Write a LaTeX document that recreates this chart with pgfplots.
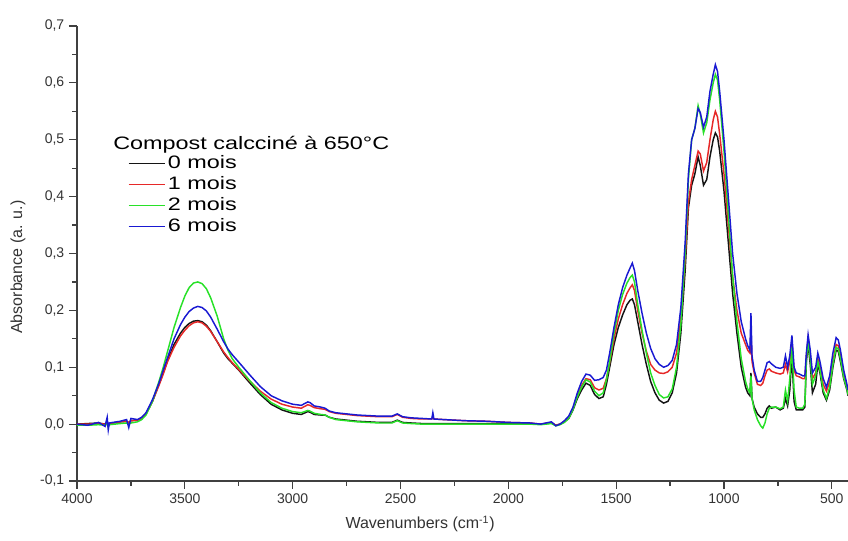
\documentclass[border=0pt]{standalone}
\usepackage{pgfplots}
\usepackage{pgfplotstable}
\pgfplotsset{compat=1.18}
\usepackage{fontspec}
\setmainfont{Liberation Sans}
\newfontfamily\legfont[FakeStretch=1.3]{Liberation Sans}

\definecolor{cK}{RGB}{20,20,20}
\definecolor{cR}{RGB}{230,40,40}
\definecolor{cG}{RGB}{40,225,40}
\definecolor{cB}{RGB}{25,25,210}

% x = wavenumber, k = 0 mois, r = 1 mois, g = 2 mois, b = 6 mois
\pgfplotstableread{
x k r g b
4000 0.000 0.000 -0.002 0.000
3950 0.001 0.000 -0.002 -0.002
3900 0.002 0.001 -0.001 0.003
3870 0.000 0.000 -0.002 -0.004
3860 0.003 0.003 0.000 0.012
3855 -0.004 -0.003 -0.004 -0.010
3850 0.001 0.001 -0.001 0.002
3800 0.004 0.004 0.001 0.005
3770 0.005 0.005 0.002 0.008
3760 0.002 0.003 0.000 -0.006
3750 0.006 0.006 0.002 0.010
3720 0.007 0.007 0.004 0.008
3700 0.010 0.010 0.008 0.012
3680 0.018 0.018 0.016 0.020
3650 0.040 0.040 0.040 0.043
3620 0.070 0.068 0.075 0.072
3600 0.090 0.088 0.100 0.095
3580 0.112 0.110 0.128 0.117
3550 0.140 0.135 0.170 0.150
3520 0.160 0.155 0.205 0.175
3500 0.170 0.165 0.225 0.188
3480 0.177 0.173 0.240 0.198
3460 0.181 0.178 0.248 0.204
3440 0.182 0.180 0.250 0.207
3420 0.180 0.178 0.247 0.205
3400 0.174 0.172 0.238 0.199
3380 0.164 0.163 0.222 0.188
3350 0.145 0.145 0.190 0.167
3320 0.125 0.127 0.150 0.145
3300 0.115 0.117 0.130 0.132
3280 0.107 0.108 0.115 0.122
3250 0.095 0.096 0.100 0.109
3200 0.073 0.076 0.077 0.087
3150 0.052 0.058 0.055 0.066
3100 0.035 0.044 0.038 0.050
3050 0.025 0.035 0.028 0.041
3000 0.019 0.030 0.022 0.035
2960 0.017 0.028 0.020 0.033
2930 0.022 0.034 0.024 0.039
2920 0.021 0.033 0.023 0.038
2900 0.017 0.029 0.019 0.032
2870 0.016 0.027 0.017 0.030
2850 0.016 0.026 0.016 0.028
2830 0.012 0.022 0.012 0.023
2800 0.009 0.019 0.008 0.020
2700 0.005 0.015 0.004 0.016
2600 0.003 0.013 0.002 0.014
2540 0.003 0.013 0.002 0.014
2515 0.007 0.017 0.006 0.018
2490 0.003 0.012 0.002 0.013
2450 0.002 0.010 0.001 0.011
2400 0.001 0.009 0.000 0.010
2355 0.001 0.009 0.000 0.009
2350 0.001 0.012 0.000 0.020
2345 0.001 0.009 0.000 0.009
2300 0.001 0.008 0.000 0.008
2200 0.001 0.006 0.000 0.006
2100 0.001 0.005 0.000 0.005
2000 0.001 0.003 0.000 0.003
1900 0.001 0.002 0.000 0.002
1850 0.000 0.000 -0.001 0.000
1800 0.002 0.003 0.001 0.004
1780 -0.002 -0.002 -0.003 -0.003
1760 0.000 0.000 -0.001 0.000
1740 0.004 0.005 0.003 0.006
1720 0.010 0.012 0.010 0.014
1700 0.025 0.028 0.026 0.030
1680 0.045 0.050 0.048 0.055
1660 0.060 0.068 0.065 0.075
1640 0.072 0.080 0.078 0.088
1620 0.068 0.078 0.074 0.086
1600 0.052 0.064 0.058 0.077
1580 0.045 0.060 0.050 0.078
1560 0.048 0.063 0.055 0.082
1545 0.070 0.080 0.078 0.095
1530 0.100 0.108 0.110 0.125
1510 0.140 0.150 0.160 0.170
1490 0.170 0.185 0.200 0.210
1470 0.192 0.210 0.228 0.240
1450 0.210 0.230 0.248 0.262
1435 0.218 0.240 0.258 0.275
1425 0.220 0.245 0.262 0.283
1415 0.210 0.235 0.250 0.270
1400 0.180 0.200 0.210 0.235
1380 0.140 0.160 0.165 0.195
1360 0.105 0.128 0.125 0.160
1340 0.075 0.105 0.090 0.133
1320 0.055 0.095 0.068 0.115
1300 0.042 0.090 0.052 0.105
1280 0.037 0.089 0.046 0.100
1260 0.040 0.092 0.048 0.103
1240 0.055 0.100 0.062 0.112
1220 0.090 0.125 0.100 0.140
1200 0.160 0.185 0.175 0.205
1180 0.270 0.290 0.300 0.320
1165 0.380 0.390 0.430 0.440
1150 0.420 0.430 0.500 0.500
1135 0.440 0.455 0.520 0.520
1120 0.470 0.480 0.560 0.555
1110 0.455 0.475 0.545 0.548
1095 0.420 0.445 0.512 0.522
1080 0.430 0.460 0.530 0.540
1065 0.470 0.500 0.570 0.585
1050 0.500 0.535 0.600 0.615
1040 0.512 0.550 0.615 0.632
1030 0.505 0.540 0.605 0.620
1020 0.480 0.510 0.570 0.585
1000 0.410 0.440 0.480 0.500
980 0.320 0.350 0.370 0.400
960 0.230 0.260 0.260 0.300
940 0.160 0.200 0.180 0.230
920 0.100 0.160 0.115 0.180
900 0.065 0.140 0.075 0.150
890 0.055 0.130 0.062 0.138
880 0.050 0.125 0.055 0.130
875 0.090 0.160 0.085 0.195
870 0.045 0.110 0.045 0.120
860 0.030 0.090 0.025 0.095
845 0.018 0.070 0.008 0.075
830 0.012 0.068 -0.003 0.075
820 0.012 0.072 -0.007 0.082
810 0.018 0.085 0.002 0.095
800 0.028 0.095 0.018 0.108
790 0.032 0.097 0.028 0.110
780 0.028 0.093 0.030 0.106
760 0.030 0.090 0.030 0.100
740 0.025 0.088 0.027 0.098
725 0.028 0.090 0.030 0.100
715 0.045 0.105 0.060 0.120
705 0.032 0.092 0.040 0.100
695 0.060 0.110 0.080 0.120
685 0.120 0.145 0.135 0.156
675 0.040 0.095 0.060 0.100
665 0.025 0.085 0.030 0.090
650 0.025 0.083 0.028 0.088
635 0.025 0.080 0.028 0.085
625 0.030 0.080 0.035 0.085
618 0.110 0.120 0.115 0.125
610 0.140 0.150 0.145 0.157
600 0.105 0.120 0.115 0.130
590 0.055 0.080 0.070 0.090
575 0.070 0.090 0.085 0.100
565 0.105 0.115 0.110 0.125
555 0.090 0.100 0.095 0.110
540 0.055 0.070 0.060 0.080
525 0.042 0.058 0.045 0.065
510 0.060 0.075 0.065 0.085
495 0.100 0.110 0.105 0.125
480 0.130 0.140 0.135 0.152
470 0.128 0.138 0.132 0.148
460 0.110 0.120 0.115 0.130
445 0.080 0.088 0.082 0.095
430 0.060 0.065 0.062 0.070
425 0.050 0.055 0.052 0.060
}\spectra

\begin{document}
\begin{tikzpicture}
\begin{axis}[
  scale only axis,
  width=578.25pt, height=341.25pt,
  x dir=reverse,
  xmin=425, xmax=4000,
  ymin=-0.1, ymax=0.7,
  axis lines*=left,
  axis line style={-, draw=black!75, line width=1pt},
  tick align=outside,
  major tick length=6pt,
  minor tick length=3.5pt,
  tick style={draw=black!75, line width=0.9pt},
  xtick={500,1000,...,4000},
  minor x tick num=1,
  ytick={-0.1,0,0.1,0.2,0.3,0.4,0.5,0.6,0.7},
  yticklabels={{-0,1},{0,0},{0,1},{0,2},{0,3},{0,4},{0,5},{0,6},{0,7}},
  minor y tick num=1,
  /pgf/number format/.cd, 1000 sep={}, assume math mode=true,
  /pgfplots/.cd,
  tick label style={font=\fontsize{10.5}{12}\selectfont, text=black!80},
  xlabel={Wavenumbers (cm\textsuperscript{-1})},
  ylabel={Absorbance (a. u.)},
  xlabel style={font=\fontsize{12}{14}\selectfont, text=black!80,
    at={(axis description cs:0.445,-0.0945)}, anchor=center},
  ylabel style={font=\fontsize{12}{14}\selectfont, text=black!80,
    at={(axis description cs:-0.0765,0.47)}, anchor=center},
  legend style={at={(axis description cs:0.066,0.717)}, anchor=north west,
    draw=none, fill=none, inner sep=0pt, row sep=3.5pt, column sep=1pt,
    font=\legfont\fontsize{13.5}{14}\selectfont,
    nodes={inner sep=0.5pt}},
  legend cell align=left,
  legend image code/.code={\draw[#1, line width=0.8pt] (0pt,0pt) -- (27.5pt,0pt);},
  every axis plot/.append style={line width=1.1pt},
  clip=false,
]
\addplot[cK] table[x=x,y=k] {\spectra};
\addplot[cR] table[x=x,y=r] {\spectra};
\addplot[cG] table[x=x,y=g] {\spectra};
\addplot[cB] table[x=x,y=b] {\spectra};
\legend{0 mois,1 mois,2 mois,6 mois}
\node[anchor=west, inner sep=0pt, font=\legfont\fontsize{13.5}{14}\selectfont]
  at (axis description cs:0.0467,0.739) {Compost calcciné à 650°C};
\end{axis}
\pgfresetboundingbox
\path ([xshift=-57.75pt,yshift=-45pt]current axis.south west)
  rectangle ([yshift=19.5pt]current axis.north east);
\end{tikzpicture}
\end{document}
